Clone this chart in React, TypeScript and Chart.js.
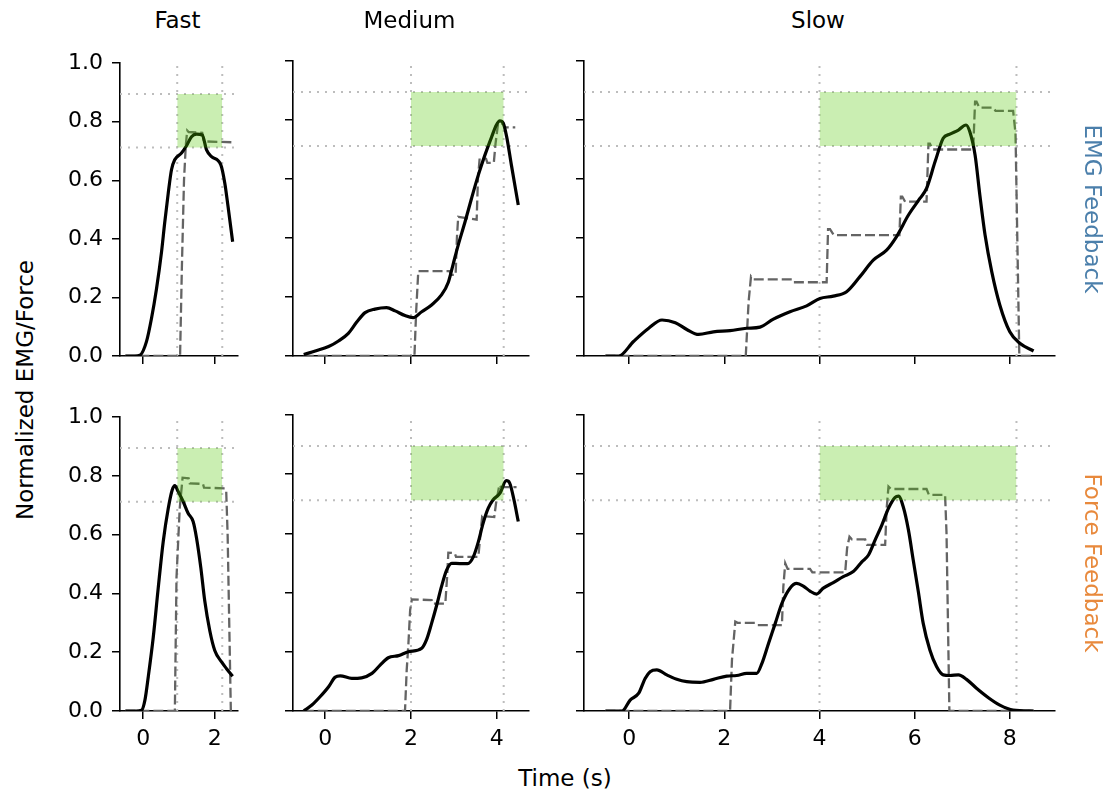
import React, { useEffect, useRef } from 'react';
import { Chart, registerables } from 'chart.js';

Chart.register(...registerables);

const FONT = "'DejaVu Sans', 'Liberation Sans', sans-serif";
Chart.defaults.font.family = FONT;

// ---------- labels ----------
const speedTitles = ['Fast', 'Medium', 'Slow'];
const rowLabels = ['EMG Feedback', 'Force Feedback'];
const rowLabelColors = ['#4b7fab', '#e8893c'];
const yAxisTitle = 'Normalized EMG/Force';
const xAxisTitle = 'Time (s)';

// ---------- axes ----------
const xLimits = [[-0.65, 2.65], [-0.75, 4.75], [-0.95, 8.95]];
const xTickValues = [[0, 2], [0, 2, 4], [0, 2, 4, 6, 8]];
const yTickValues = [0, 0.2, 0.4, 0.6, 0.8, 1.0];
const windowStart = [0.95, 2.0, 4.0];
const windowEnd = [2.21, 4.16, 8.14];
const targetLow = 0.712;
const targetHigh = 0.895;

// ---------- EMG feedback row ----------
const fastEmgTime = [-0.5, -0.25, -0.09, 0.09, 0.23, 0.37, 0.51, 0.6, 0.7, 0.79, 0.88, 1.07, 1.21, 1.35, 1.49, 1.65, 1.77, 1.91, 2.17, 2.28, 2.37, 2.5];
const fastEmgSignal = [0, 0, 0.003, 0.049, 0.128, 0.229, 0.354, 0.455, 0.557, 0.636, 0.67, 0.693, 0.718, 0.749, 0.758, 0.755, 0.704, 0.681, 0.653, 0.591, 0.512, 0.39];
const fastEmgFeedbackTime = [-0.5, 1.03, 1.08, 1.14, 1.19, 1.23, 1.27, 1.65, 1.7, 2.47];
const fastEmgFeedback = [0, 0, 0.3, 0.6, 0.72, 0.77, 0.765, 0.762, 0.733, 0.73];

const mediumEmgTime = [-0.5, -0.23, 0.08, 0.31, 0.54, 0.74, 0.93, 1.16, 1.43, 1.63, 1.86, 2.05, 2.25, 2.48, 2.71, 2.87, 2.98, 3.1, 3.26, 3.41, 3.57, 3.72, 3.88, 3.99, 4.07, 4.15, 4.23, 4.34, 4.5];
const mediumEmgSignal = [0.005, 0.017, 0.032, 0.051, 0.077, 0.116, 0.147, 0.159, 0.164, 0.153, 0.137, 0.13, 0.15, 0.173, 0.207, 0.25, 0.31, 0.376, 0.455, 0.534, 0.614, 0.68, 0.743, 0.783, 0.797, 0.789, 0.743, 0.647, 0.512];
const mediumEmgFeedbackTime = [-0.5, 2.08, 2.12, 2.17, 2.9, 2.93, 3.04, 3.07, 3.1, 3.53, 3.56, 3.6, 3.75, 3.78, 3.93, 3.97, 4.03, 4.15, 4.18, 4.43];
const mediumEmgFeedback = [0, 0, 0.15, 0.288, 0.288, 0.275, 0.275, 0.4, 0.472, 0.462, 0.6, 0.67, 0.668, 0.655, 0.655, 0.72, 0.789, 0.787, 0.775, 0.775];

const slowEmgTime = [-0.5, -0.22, 0.09, 0.41, 0.69, 0.97, 1.21, 1.46, 1.77, 2.12, 2.47, 2.75, 3.03, 3.38, 3.73, 4.01, 4.29, 4.57, 4.85, 5.13, 5.41, 5.62, 5.87, 6.11, 6.25, 6.43, 6.6, 6.74, 6.92, 7.08, 7.16, 7.27, 7.37, 7.48, 7.62, 7.79, 8.0, 8.21, 8.5];
const slowEmgSignal = [0, 0, 0.049, 0.094, 0.122, 0.113, 0.09, 0.073, 0.082, 0.086, 0.094, 0.098, 0.125, 0.15, 0.17, 0.195, 0.203, 0.218, 0.269, 0.325, 0.359, 0.405, 0.478, 0.534, 0.568, 0.659, 0.738, 0.752, 0.766, 0.783, 0.76, 0.681, 0.546, 0.41, 0.286, 0.173, 0.082, 0.043, 0.017];
const slowEmgFeedbackTime = [-0.5, 2.45, 2.51, 2.56, 2.6, 3.42, 3.45, 4.15, 4.18, 4.22, 4.3, 5.68, 5.71, 5.74, 5.8, 6.25, 6.29, 6.32, 6.38, 7.23, 7.27, 7.3, 7.36, 7.65, 7.7, 8.07, 8.12, 8.2, 8.5];
const slowEmgFeedback = [0, 0, 0.184, 0.269, 0.26, 0.26, 0.25, 0.25, 0.43, 0.43, 0.41, 0.41, 0.54, 0.54, 0.523, 0.523, 0.72, 0.72, 0.7, 0.7, 0.862, 0.862, 0.842, 0.842, 0.831, 0.831, 0.755, 0, 0];

// ---------- Force feedback row ----------
const fastForceTime = [-0.5, -0.2, -0.045, 0.047, 0.14, 0.28, 0.42, 0.56, 0.7, 0.81, 0.884, 0.977, 1.116, 1.255, 1.395, 1.49, 1.61, 1.72, 1.86, 2.0, 2.19, 2.33, 2.5];
const fastForceSignal = [0, 0, 0.003, 0.037, 0.116, 0.251, 0.42, 0.578, 0.69, 0.752, 0.767, 0.747, 0.713, 0.673, 0.645, 0.589, 0.488, 0.375, 0.274, 0.206, 0.167, 0.144, 0.118];
const fastForceFeedbackTime = [-0.5, 0.884, 0.93, 1.02, 1.1, 1.27, 1.3, 1.67, 1.7, 2.28, 2.32, 2.36, 2.45, 2.5];
const fastForceFeedback = [0, 0, 0.454, 0.69, 0.794, 0.792, 0.775, 0.773, 0.76, 0.758, 0.75, 0.6, 0, 0];

const mediumForceTime = [-0.5, -0.31, -0.12, 0.08, 0.23, 0.35, 0.62, 0.85, 1.09, 1.28, 1.47, 1.71, 1.94, 2.25, 2.36, 2.48, 2.6, 2.71, 2.83, 2.95, 3.14, 3.32, 3.45, 3.57, 3.68, 3.8, 3.91, 4.07, 4.22, 4.3, 4.4, 4.5];
const mediumForceSignal = [0, 0.02, 0.048, 0.082, 0.114, 0.119, 0.11, 0.112, 0.127, 0.155, 0.18, 0.187, 0.2, 0.212, 0.24, 0.296, 0.358, 0.42, 0.476, 0.499, 0.498, 0.498, 0.52, 0.572, 0.634, 0.685, 0.713, 0.735, 0.778, 0.77, 0.713, 0.64];
const mediumForceFeedbackTime = [-0.5, 1.86, 1.9, 1.94, 1.98, 2.02, 2.48, 2.5, 2.8, 2.84, 2.87, 3.02, 3.05, 3.57, 3.62, 3.66, 3.94, 3.98, 4.06, 4.1, 4.46];
const mediumForceFeedback = [0, 0, 0.139, 0.228, 0.341, 0.377, 0.375, 0.363, 0.363, 0.45, 0.535, 0.533, 0.521, 0.521, 0.6, 0.659, 0.655, 0.7, 0.764, 0.756, 0.756];

const slowForceTime = [-0.5, -0.15, 0.02, 0.2, 0.335, 0.44, 0.58, 0.79, 1.0, 1.21, 1.49, 1.77, 2.05, 2.26, 2.47, 2.68, 2.79, 2.93, 3.07, 3.21, 3.38, 3.52, 3.66, 3.8, 3.94, 4.08, 4.29, 4.5, 4.71, 4.89, 5.03, 5.17, 5.31, 5.45, 5.59, 5.66, 5.76, 5.87, 5.97, 6.08, 6.18, 6.32, 6.46, 6.6, 6.74, 6.92, 7.09, 7.3, 7.55, 7.79, 8.07, 8.5];
const slowForceSignal = [0, 0, 0.037, 0.06, 0.11, 0.133, 0.139, 0.122, 0.107, 0.099, 0.097, 0.107, 0.118, 0.12, 0.127, 0.127, 0.161, 0.229, 0.296, 0.364, 0.415, 0.431, 0.422, 0.405, 0.395, 0.415, 0.434, 0.454, 0.471, 0.504, 0.527, 0.578, 0.628, 0.685, 0.722, 0.726, 0.69, 0.611, 0.51, 0.4, 0.296, 0.206, 0.15, 0.122, 0.12, 0.122, 0.107, 0.077, 0.045, 0.02, 0.003, 0];
const slowForceFeedbackTime = [-0.5, 2.12, 2.16, 2.23, 2.28, 2.65, 2.7, 3.21, 3.24, 3.28, 3.33, 3.8, 3.85, 4.54, 4.58, 4.63, 4.68, 4.96, 5.0, 5.38, 5.41, 5.45, 5.5, 6.25, 6.3, 6.64, 6.67, 6.73, 8.5];
const slowForceFeedback = [0, 0, 0.172, 0.302, 0.298, 0.298, 0.29, 0.29, 0.42, 0.499, 0.48, 0.48, 0.468, 0.468, 0.55, 0.589, 0.58, 0.58, 0.561, 0.561, 0.68, 0.758, 0.75, 0.75, 0.73, 0.73, 0.6, 0, 0];

const panelData = [
  [
    { t: fastEmgTime, s: fastEmgSignal, ft: fastEmgFeedbackTime, f: fastEmgFeedback },
    { t: mediumEmgTime, s: mediumEmgSignal, ft: mediumEmgFeedbackTime, f: mediumEmgFeedback },
    { t: slowEmgTime, s: slowEmgSignal, ft: slowEmgFeedbackTime, f: slowEmgFeedback },
  ],
  [
    { t: fastForceTime, s: fastForceSignal, ft: fastForceFeedbackTime, f: fastForceFeedback },
    { t: mediumForceTime, s: mediumForceSignal, ft: mediumForceFeedbackTime, f: mediumForceFeedback },
    { t: slowForceTime, s: slowForceSignal, ft: slowForceFeedbackTime, f: slowForceFeedback },
  ],
];

// ---------- layout (page pixels) ----------
const colLeft = [120, 293, 584];
const colWidth = [118, 236, 471];
const rowTop = [61, 415];
const rowHeight = [295, 296];
const M = { l: 70, t: 20, r: 30, b: 45 };

const pts = (xs: number[], ys: number[]) => xs.map((x, i) => ({ x, y: ys[i] }));

function Panel({ row, col }: { row: number; col: number }) {
  const ref = useRef<HTMLCanvasElement>(null);
  const W = colWidth[col] + M.l + M.r;
  const H = rowHeight[row] + M.t + M.b;

  useEffect(() => {
    const d = panelData[row][col];
    const [xmin, xmax] = xLimits[col];
    const ws = windowStart[col];
    const we = windowEnd[col];
    const dotted = { borderColor: '#bdbdbd', borderWidth: 2, borderDash: [2, 6], pointRadius: 0, fill: false, order: 5, tension: 0 };
    const chart = new Chart(ref.current as HTMLCanvasElement, {
      type: 'line',
      data: {
        datasets: [
          {
            data: [{ x: ws, y: targetHigh }, { x: we, y: targetHigh }],
            borderColor: 'rgba(0,0,0,0)',
            borderWidth: 1,
            pointRadius: 0,
            fill: { value: targetLow },
            backgroundColor: 'rgba(80,200,0,0.3)',
            order: 0,
          },
          {
            data: pts(d.t, d.s),
            borderColor: '#000000',
            borderWidth: 3.2,
            pointRadius: 0,
            fill: false,
            cubicInterpolationMode: 'monotone',
            order: 1,
          },
          {
            data: pts(d.ft, d.f),
            borderColor: '#646464',
            borderWidth: 2.3,
            borderDash: [10, 4],
            pointRadius: 0,
            fill: false,
            tension: 0,
            order: 2,
          },
          { ...dotted, data: [{ x: xmin, y: targetHigh }, { x: xmax, y: targetHigh }] },
          { ...dotted, data: [{ x: xmin, y: targetLow }, { x: xmax, y: targetLow }] },
          { ...dotted, data: [{ x: ws, y: 0 }, { x: ws, y: 1 }] },
          { ...dotted, data: [{ x: we, y: 0 }, { x: we, y: 1 }] },
        ] as any,
      },
      options: {
        animation: false,
        responsive: false,
        maintainAspectRatio: false,
        devicePixelRatio: 1,
        events: [],
        layout: { padding: { left: 0, top: M.t, right: M.r, bottom: 0 } },
        plugins: { legend: { display: false }, tooltip: { enabled: false }, title: { display: false } },
        scales: {
          x: {
            type: 'linear',
            min: xmin,
            max: xmax,
            afterBuildTicks: (s: any) => {
              s.ticks = xTickValues[col].map((v) => ({ value: v }));
            },
            afterFit: (s: any) => {
              s.height = M.b;
            },
            ticks: {
              display: row === 1,
              autoSkip: false,
              maxRotation: 0,
              padding: 7,
              color: '#000',
              font: { family: FONT, size: 22 },
              callback: (v: any) => String(v),
            },
            grid: { drawOnChartArea: false, drawTicks: true, tickLength: 8, tickColor: '#000', tickWidth: 1.5, color: '#000', lineWidth: 1.5 },
            border: { display: true, color: '#000', width: 1.6 },
          },
          y: {
            type: 'linear',
            min: 0,
            max: 1,
            afterBuildTicks: (s: any) => {
              s.ticks = yTickValues.map((v) => ({ value: v }));
            },
            afterFit: (s: any) => {
              s.width = M.l;
            },
            ticks: {
              display: col === 0,
              padding: 9,
              color: '#000',
              font: { family: FONT, size: 22 },
              callback: (v: any) => Number(v).toFixed(1),
            },
            grid: { drawOnChartArea: false, drawTicks: true, tickLength: 8, tickColor: '#000', tickWidth: 1.5, color: '#000', lineWidth: 1.5 },
            border: { display: true, color: '#000', width: 1.6 },
          },
        },
      } as any,
    });
    return () => chart.destroy();
  }, [row, col]);

  return (
    <canvas
      ref={ref}
      width={W}
      height={H}
      style={{ position: 'absolute', left: colLeft[col] - M.l, top: rowTop[row] - M.t, width: W, height: H }}
    />
  );
}

const textBase: React.CSSProperties = {
  position: 'absolute',
  fontFamily: FONT,
  fontSize: 23,
  lineHeight: '23px',
  whiteSpace: 'nowrap',
  color: '#000',
};

export default function App() {
  return (
    <div style={{ position: 'absolute', left: 0, top: 0, width: 1105, height: 794, background: '#fff', overflow: 'hidden' }}>
      {[0, 1].map((r) => [0, 1, 2].map((c) => <Panel key={`${r}-${c}`} row={r} col={c} />))}
      {speedTitles.map((t, c) => (
        <div key={t} style={{ ...textBase, left: colLeft[c] + colWidth[c] / 2 - 1.5, top: 9, transform: 'translateX(-50%)' }}>
          {t}
        </div>
      ))}
      <div style={{ ...textBase, left: 24.5, top: 390, transform: 'translate(-50%, -50%) rotate(-90deg)' }}>{yAxisTitle}</div>
      <div style={{ ...textBase, left: 565, top: 767, transform: 'translateX(-50%)' }}>{xAxisTitle}</div>
      {rowLabels.map((t, r) => (
        <div
          key={t}
          style={{
            ...textBase,
            color: rowLabelColors[r],
            left: 1092,
            top: rowTop[r] + rowHeight[r] / 2,
            transform: 'translate(-50%, -50%) rotate(90deg)',
          }}
        >
          {t}
        </div>
      ))}
    </div>
  );
}
